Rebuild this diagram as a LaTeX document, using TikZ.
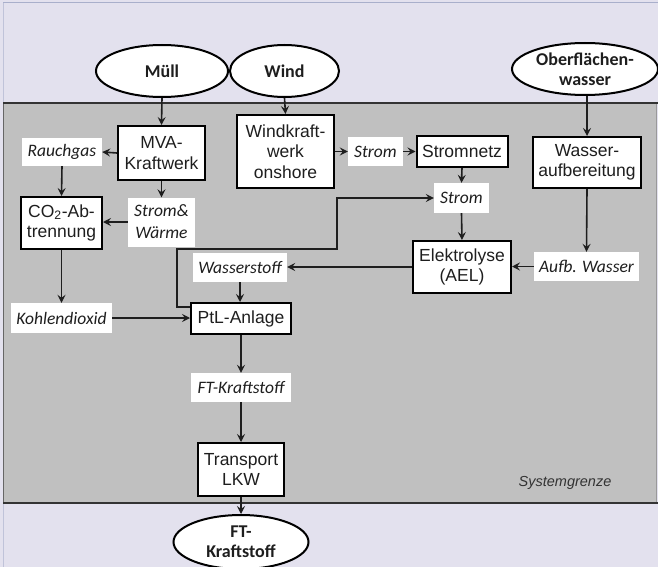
\documentclass[tikz,border=0pt]{standalone}
\usepackage{fontspec}
\setmainfont{Liberation Sans}
\newfontfamily\calib{Carlito}
\usetikzlibrary{arrows.meta,shapes.geometric}
\definecolor{bgcol}{HTML}{E3E1EE}
\definecolor{sysgray}{HTML}{C0C0C0}
\definecolor{topline}{HTML}{A9AFCB}
\definecolor{txt}{HTML}{1E1E1E}
\tikzset{
  unitbox/.style={draw=black, line width=2pt, fill=white, text=txt, align=center,
    inner sep=0pt, font=\fontsize{17.5}{20.5}\selectfont},
  flowlbl/.style={fill=white, text=txt, align=center, inner sep=0pt,
    font=\calib\itshape\fontsize{17.5}{22}\selectfont},
  source/.style={ellipse, draw=black, line width=2pt, fill=white, text=txt, align=center,
    inner sep=0pt, font=\calib\bfseries\fontsize{18}{20}\selectfont},
  arr/.style={line width=1.6pt, draw=txt, -{Stealth[length=8pt,width=8pt,inset=3pt]}}
}
\begin{document}
\begin{tikzpicture}[x=1pt,y=-1pt]
% canvas
\fill[bgcol] (0,0) rectangle (658,567);
\useasboundingbox (0,0) rectangle (658,567);
\draw[topline, line width=1pt] (3,3) -- (658,3);
\draw[topline!60!bgcol, line width=1pt] (3,3) -- (3,567);
% system boundary
\fill[sysgray] (3,103) rectangle (656,503);
\draw[black!60, line width=1pt] (3,103) -- (3,503);
\draw[black!40, line width=0.8pt] (656,103) -- (656,503);
\draw[black!80, line width=2pt] (3,103) -- (658,103);
\draw[black!80, line width=2pt] (3,503) -- (658,503);
\node[text=black!80, font=\itshape\fontsize{14.5}{16}\selectfont] (sysg) at (565,483) {Systemgrenze};

% sources and product
\node[source, minimum width=132pt, minimum height=52pt] (muell) at (162,71) {Müll};
\node[source, minimum width=109pt, minimum height=52pt] (wind) at (284.5,71) {Wind};
\node[source, minimum width=146pt, minimum height=52pt] (ober) at (585,69) {Oberflächen-\\wasser};
\node[source, minimum width=135pt, minimum height=54pt] (ftk) at (241,542) {FT-\\Kraftstoff};

% process units
\node[unitbox, minimum width=87pt, minimum height=54pt] (mva) at (161.5,153) {MVA-\\Kraftwerk};
\node[unitbox, minimum width=97pt, minimum height=73pt] (wkw) at (285.5,151.5) {Windkraft-\\werk\\onshore};
\node[unitbox, minimum width=91pt, minimum height=31pt] (netz) at (462,151.5) {Stromnetz};
\node[unitbox, minimum width=108pt, minimum height=51pt] (wab) at (587,162.5) {Wasser-\\aufbereitung};
\node[unitbox, minimum width=81pt, minimum height=52pt] (co2) at (61.5,223) {CO\textsubscript{2}-Ab-\\trennung};
\node[unitbox, minimum width=98pt, minimum height=52pt] (ael) at (462,267) {Elektrolyse\\(AEL)};
\node[unitbox, minimum width=100pt, minimum height=31pt] (ptl) at (241,318.5) {PtL-Anlage};
\node[unitbox, minimum width=86pt, minimum height=53pt] (lkw) at (241,469.5) {Transport\\LKW};

% flow labels
\node[flowlbl, minimum width=80pt, minimum height=28pt] (rauch) at (62,152) {Rauchgas};
\node[flowlbl, minimum width=67pt, minimum height=49pt] (sw) at (161.5,222) {Strom\&\\Wärme};
\node[flowlbl, minimum width=55pt, minimum height=29pt] (strom1) at (375.5,151.5) {Strom};
\node[flowlbl, minimum width=55pt, minimum height=30pt] (strom2) at (461.5,198) {Strom};
\node[flowlbl, minimum width=105pt, minimum height=29pt] (aufb) at (586.5,266.5) {Aufb. Wasser};
\node[flowlbl, minimum width=94pt, minimum height=29pt] (h2) at (240,267.5) {Wasserstoff};
\node[flowlbl, minimum width=101pt, minimum height=30pt] (kohl) at (61.5,318) {Kohlendioxid};
\node[flowlbl, minimum width=100pt, minimum height=29pt] (ftl) at (241,387.5) {FT-Kraftstoff};

% bends of the grid power line
\coordinate (k1) at (177,249);
\coordinate (k2) at (337,249);

% connectors
\draw[arr] (muell.south) -- (mva.north);
\draw[arr] (wind.south) -- (wkw.north);
\draw[arr] (wab.north |- ober.south) -- (wab.north);
\draw[arr] (mva.west) -- (rauch.east);
\draw[arr] (rauch.south) -- (co2.north);
\draw[arr] (mva.south) -- (sw.north);
\draw[arr] (sw.west) -- (sw.west -| co2.east);
\draw[arr] (co2.south) -- (kohl.north);
\draw[arr] (kohl.east) -- (kohl.east -| ptl.west);
\draw[arr] (wkw.east |- strom1.west) -- (strom1.west);
\draw[arr] (strom1.east) -- (strom1.east -| netz.west);
\draw[arr] (netz.south) -- (strom2.north);
\draw[arr] (strom2.south) -- (ael.north);
\draw[arr] (wab.south) -- (aufb.north);
\draw[arr] (aufb.west) -- (aufb.west -| ael.east);
\draw[arr] (ael.west) -- (ael.west -| h2.east);
\draw[arr] (h2.south) -- (h2.south |- ptl.north);
\draw[arr] ([yshift=-5pt]ptl.north west) -| (k1) -- (k2) |- (strom2.west);
\draw[arr] (ptl.south) -- (ftl.north);
\draw[arr] (ftl.south) -- (lkw.north);
\draw[arr] (lkw.south) -- (ftk.north);
\end{tikzpicture}
\end{document}
